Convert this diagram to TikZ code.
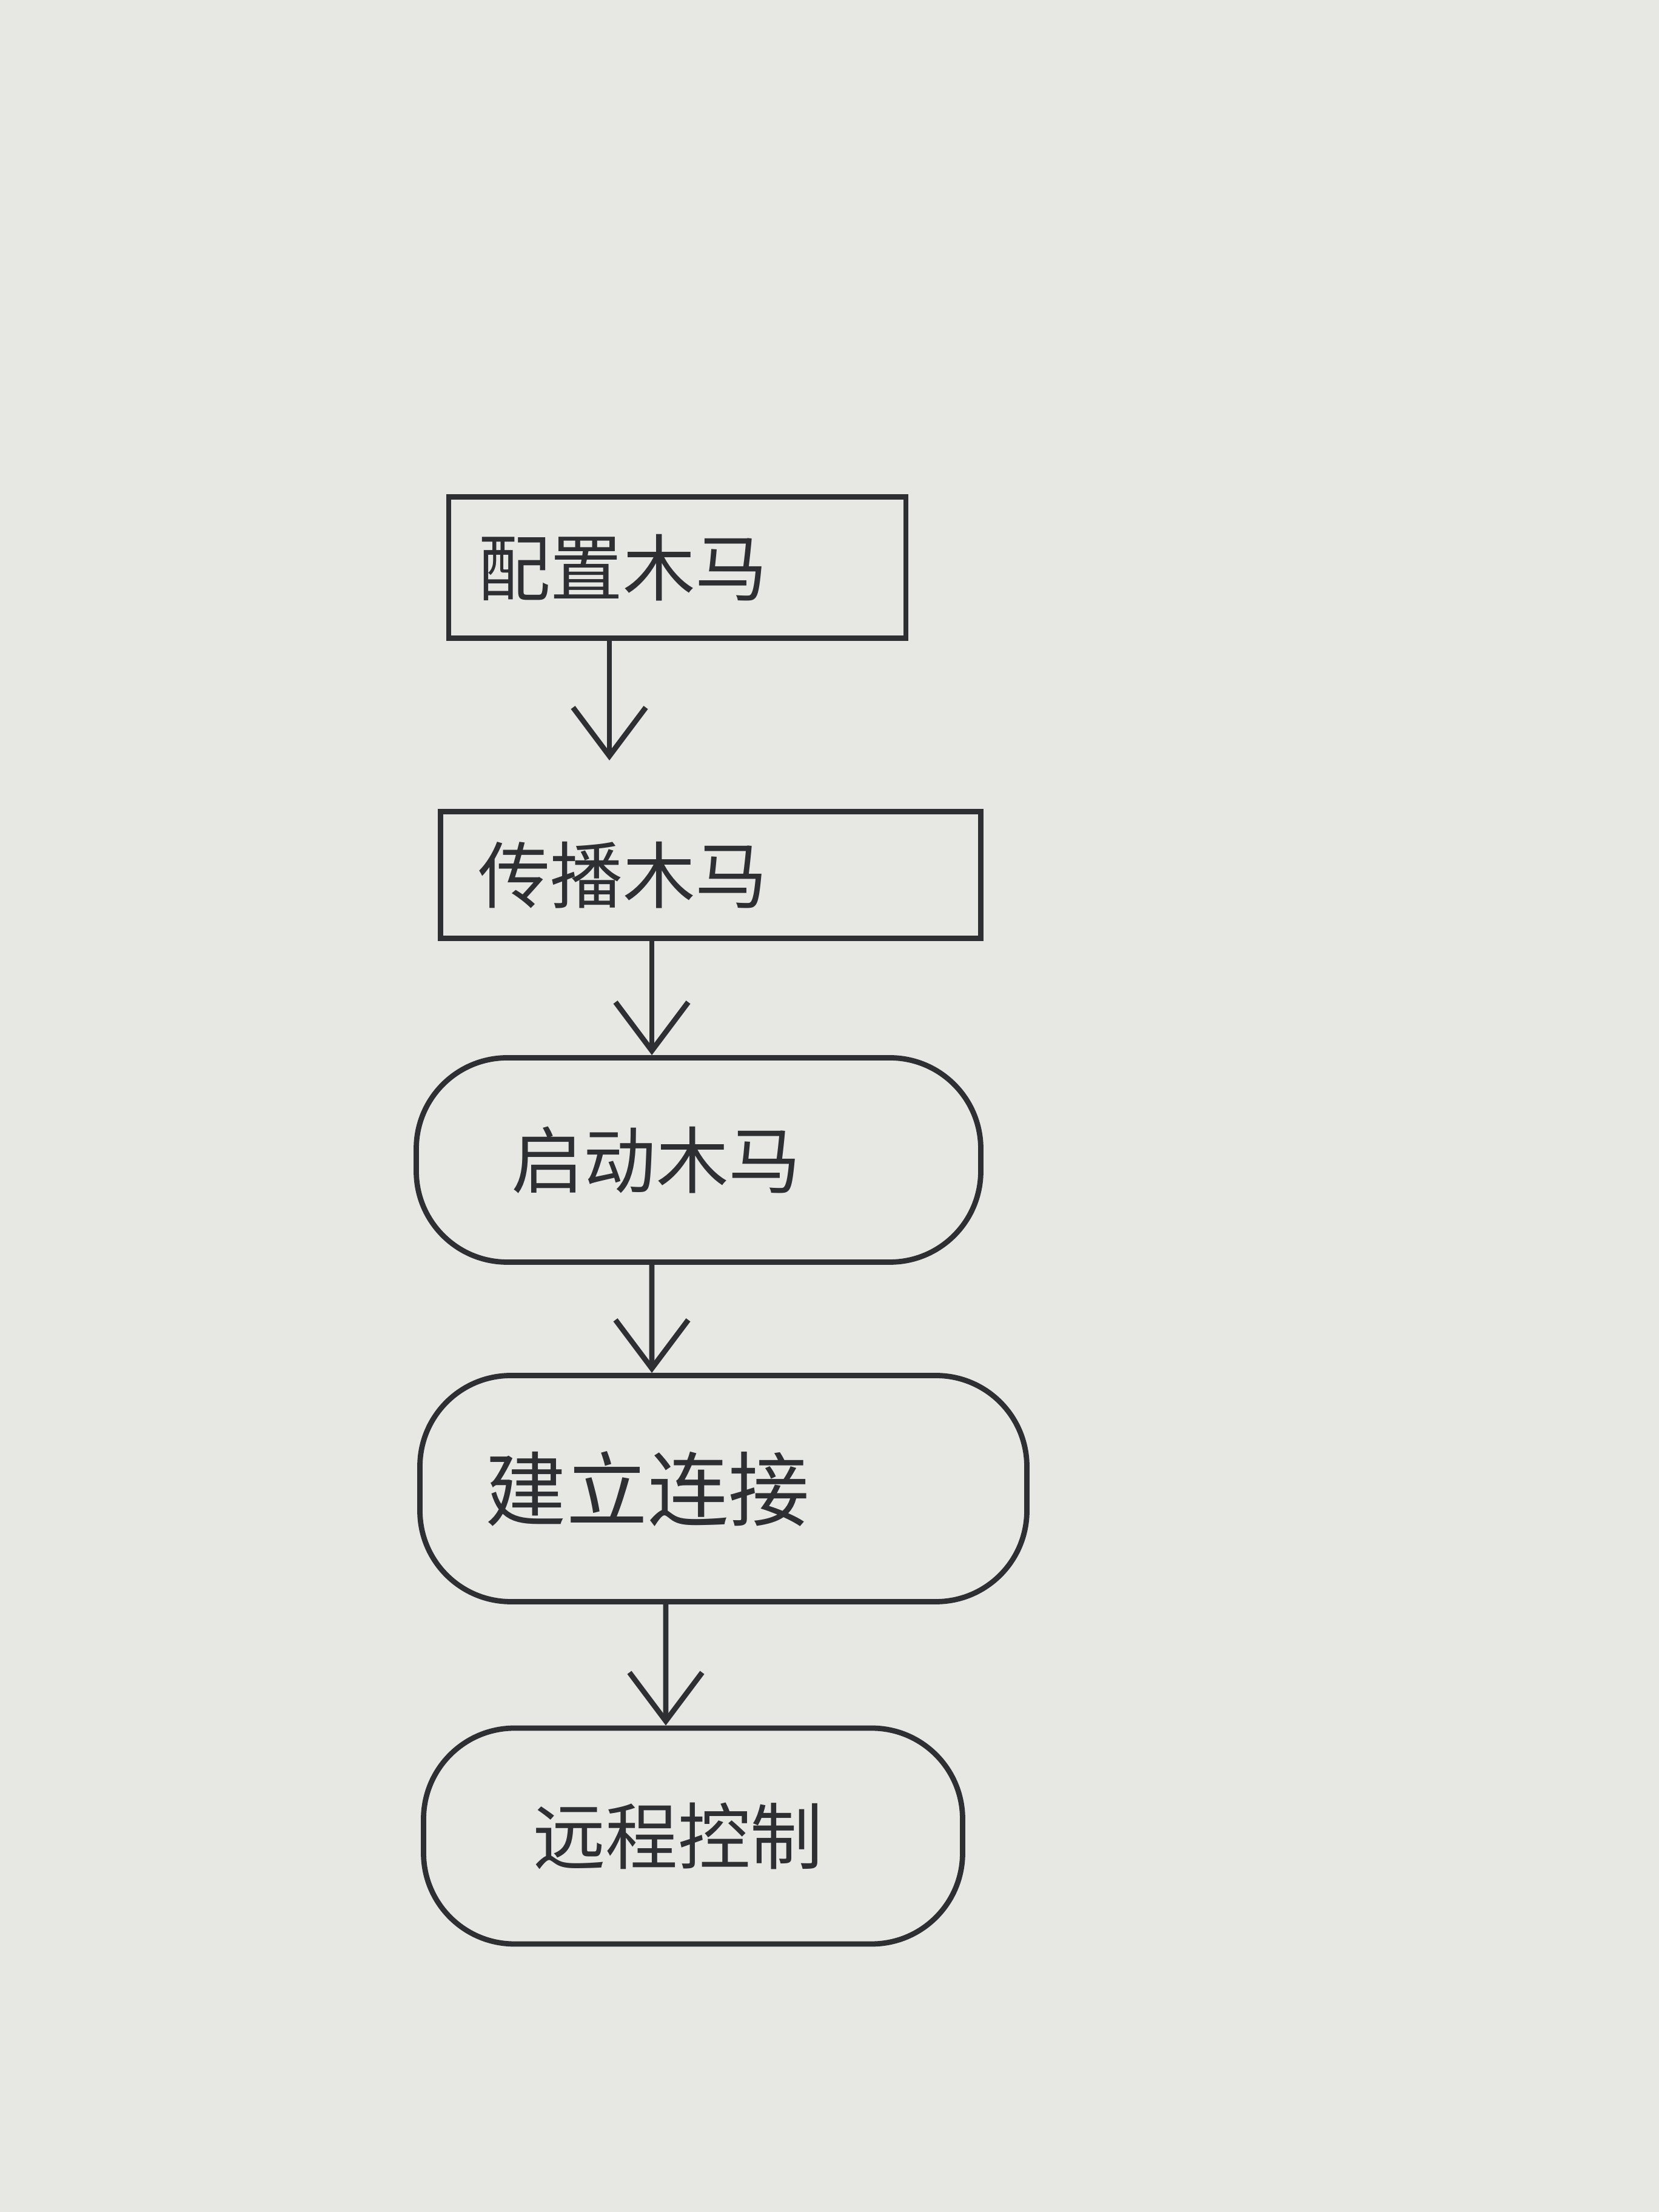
\documentclass[tikz,border=0pt]{standalone}
\usepackage{fontspec}
\newfontfamily\cjk{Noto Sans CJK SC}
\usetikzlibrary{arrows.meta}
\definecolor{paper}{RGB}{231,231,228}
\definecolor{pen}{RGB}{45,47,50}

\begin{document}
\begin{tikzpicture}[>={Straight Barb[length=8mm,width=12mm]},
    every node/.style={font=\fontsize{34pt}{40pt}\cjk, text=pen},
    stepbox/.style={draw=pen, line width=2.5pt, inner sep=0pt},
    roundbox/.style={stepbox, rounded corners=1.5cm},
    flow/.style={->, draw=pen, line width=2.5pt}]

    % paper
    \fill[paper] (0,0) rectangle (27.36,36.48);
    \useasboundingbox (0,0) rectangle (27.36,36.48);

    % steps (text sits left of centre, as written)
    \node[stepbox, minimum width=7.54cm, minimum height=2.33cm] (pz) at (11.17,27.12) {配置木马\kern1.8cm\mbox{}};
    \node[stepbox, minimum width=8.91cm, minimum height=2.09cm] (cb) at (11.72,22.05) {传播木马\kern2.9cm\mbox{}};
    \node[roundbox, minimum width=9.31cm, minimum height=3.37cm] (qd) at (11.52,17.35) {启动木马\kern1.4cm\mbox{}};
    \node[roundbox, minimum width=10.01cm, minimum height=3.73cm] (lj) at (11.93,11.93) {\fontsize{38pt}{44pt}\selectfont 建立连接\kern2.5cm\mbox{}};
    \node[roundbox, minimum width=8.89cm, minimum height=3.56cm] (kz) at (11.43,6.20) {远程控制\kern0.5cm\mbox{}};

    % arrows
    \draw[flow, shorten >=0.8cm] ([xshift=-1.12cm]pz.south) -- ([xshift=-1.67cm]cb.north);
    \draw[flow] ([xshift=-0.97cm]cb.south) -- ([xshift=-0.77cm]qd.north);
    \draw[flow] ([xshift=-0.77cm]qd.south) -- ([xshift=-1.18cm]lj.north);
    \draw[flow] ([xshift=-0.95cm]lj.south) -- ([xshift=-0.45cm]kz.north);

\end{tikzpicture}
\end{document}
